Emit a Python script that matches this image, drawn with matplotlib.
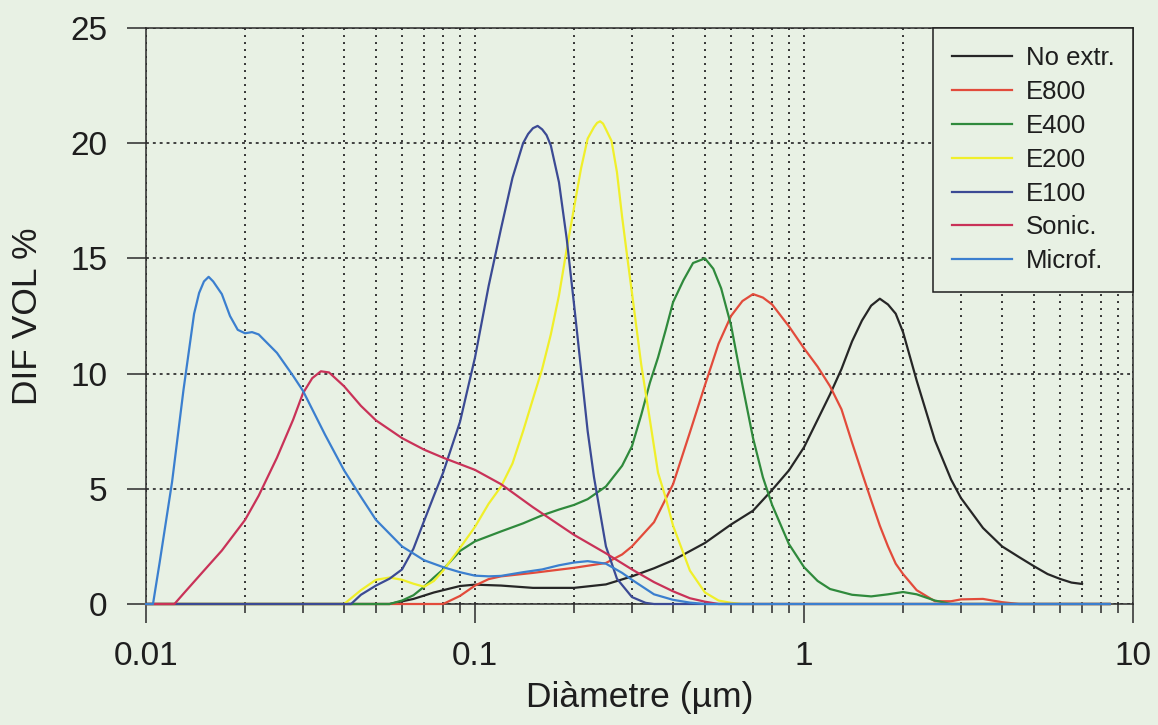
import matplotlib
matplotlib.use("Agg")
import matplotlib.pyplot as plt
from matplotlib.ticker import FixedLocator, FixedFormatter, LogLocator, NullFormatter

plt.rcParams['font.family'] = ['Liberation Sans', 'DejaVu Sans']

# Particle size distributions: diameter (um) vs differential volume (%)
no_extr_d = [0.01, 0.055, 0.065, 0.075, 0.09, 0.10, 0.12, 0.15, 0.20, 0.25, 0.30, 0.35,
             0.40, 0.50, 0.60, 0.70, 0.80, 0.90, 1.0, 1.1, 1.2, 1.3, 1.4, 1.5, 1.6, 1.7,
             1.8, 1.9, 2.0, 2.2, 2.5, 2.8, 3.0, 3.5, 4.0, 4.5, 5.0, 5.5, 6.0, 6.5, 7.0]
no_extr_v = [0, 0, 0.22, 0.5, 0.78, 0.84, 0.8, 0.7, 0.7, 0.85, 1.2, 1.55,
             1.9, 2.65, 3.45, 4.05, 4.95, 5.8, 6.8, 8.0, 9.1, 10.2, 11.4, 12.3, 12.95, 13.25,
             13.0, 12.6, 11.8, 9.7, 7.1, 5.4, 4.6, 3.3, 2.5, 2.04, 1.64, 1.3, 1.09, 0.93, 0.87]

e800_d = [0.01, 0.08, 0.09, 0.10, 0.11, 0.12, 0.15, 0.20, 0.25, 0.28, 0.30, 0.35, 0.40,
          0.45, 0.50, 0.55, 0.60, 0.65, 0.70, 0.75, 0.80, 0.90, 1.0, 1.1, 1.2, 1.3, 1.4,
          1.5, 1.6, 1.7, 1.8, 1.9, 2.0, 2.2, 2.5, 2.8, 3.0, 3.5, 4.0, 4.5, 8.5]
e800_v = [0, 0, 0.35, 0.8, 1.08, 1.2, 1.35, 1.57, 1.78, 2.15, 2.5, 3.55, 5.2,
          7.45, 9.5, 11.3, 12.5, 13.15, 13.45, 13.3, 13.0, 12.05, 11.1, 10.3, 9.45, 8.45, 7.0,
          5.7, 4.5, 3.4, 2.5, 1.75, 1.3, 0.6, 0.12, 0.12, 0.2, 0.22, 0.08, 0, 0]

e400_d = [0.01, 0.055, 0.06, 0.065, 0.07, 0.075, 0.08, 0.09, 0.10, 0.12, 0.14, 0.16,
          0.18, 0.20, 0.22, 0.25, 0.28, 0.30, 0.32, 0.34, 0.36, 0.38, 0.40, 0.43, 0.46,
          0.50, 0.53, 0.56, 0.60, 0.65, 0.70, 0.75, 0.80, 0.90, 1.0, 1.1, 1.2, 1.4, 1.6,
          1.8, 2.0, 2.2, 2.5, 2.8, 8.5]
e400_v = [0, 0, 0.15, 0.38, 0.75, 1.15, 1.5, 2.3, 2.72, 3.15, 3.5, 3.85,
          4.1, 4.3, 4.55, 5.1, 6.0, 6.85, 8.2, 9.6, 10.7, 11.9, 13.1, 14.05, 14.8,
          15.0, 14.55, 13.7, 12.1, 9.5, 7.2, 5.5, 4.3, 2.6, 1.6, 1.0, 0.65, 0.4, 0.33,
          0.42, 0.52, 0.42, 0.15, 0, 0]

e200_d = [0.01, 0.04, 0.045, 0.05, 0.055, 0.06, 0.065, 0.07, 0.075, 0.08, 0.09, 0.10,
          0.11, 0.12, 0.13, 0.14, 0.15, 0.16, 0.17, 0.18, 0.19, 0.20, 0.21, 0.22, 0.23,
          0.235, 0.24, 0.245, 0.25, 0.26, 0.27, 0.28, 0.29, 0.30, 0.32, 0.34, 0.36, 0.38,
          0.40, 0.45, 0.50, 0.55, 0.60, 0.65, 8.5]
e200_v = [0, 0, 0.6, 1.05, 1.15, 1.05, 0.88, 0.75, 1.0, 1.45, 2.43, 3.35,
          4.35, 5.1, 6.1, 7.5, 8.9, 10.2, 11.7, 13.4, 15.4, 17.2, 18.9, 20.2, 20.7,
          20.88, 20.95, 20.85, 20.6, 20.1, 18.75, 16.8, 15.1, 13.5, 10.4, 8.0, 5.7, 4.6,
          3.4, 1.45, 0.5, 0.15, 0.05, 0, 0]

e100_d = [0.01, 0.042, 0.045, 0.05, 0.055, 0.06, 0.065, 0.07, 0.075, 0.08, 0.09, 0.10,
          0.11, 0.12, 0.13, 0.14, 0.145, 0.15, 0.155, 0.16, 0.165, 0.17, 0.18, 0.19, 0.20,
          0.21, 0.22, 0.23, 0.25, 0.27, 0.30, 0.33, 0.35, 8.5]
e100_v = [0, 0, 0.4, 0.8, 1.1, 1.5, 2.4, 3.6, 4.7, 5.7, 7.9, 10.7,
          13.8, 16.3, 18.5, 20.0, 20.4, 20.65, 20.75, 20.6, 20.35, 19.9, 18.3, 15.85, 13.0,
          10.2, 7.5, 5.5, 2.5, 1.1, 0.3, 0.05, 0, 0]

sonic_d = [0.01, 0.0122, 0.013, 0.015, 0.017, 0.020, 0.022, 0.025, 0.028, 0.030, 0.032,
           0.034, 0.036, 0.040, 0.045, 0.050, 0.060, 0.070, 0.080, 0.10, 0.12, 0.15, 0.20,
           0.25, 0.30, 0.35, 0.40, 0.45, 0.50, 0.55, 8.5]
sonic_v = [0, 0, 0.45, 1.45, 2.32, 3.65, 4.7, 6.35, 8.0, 9.15, 9.8,
           10.1, 10.05, 9.45, 8.6, 7.97, 7.2, 6.7, 6.35, 5.82, 5.2, 4.2, 3.0,
           2.2, 1.5, 0.95, 0.55, 0.25, 0.1, 0, 0]

microf_d = [0.01, 0.0105, 0.011, 0.012, 0.013, 0.014, 0.0145, 0.015, 0.0155, 0.016, 0.017,
            0.018, 0.019, 0.020, 0.021, 0.022, 0.025, 0.028, 0.030, 0.035, 0.040, 0.045,
            0.050, 0.060, 0.070, 0.080, 0.090, 0.10, 0.11, 0.12, 0.14, 0.16, 0.18, 0.20,
            0.22, 0.25, 0.28, 0.30, 0.35, 0.40, 0.45, 0.50, 8.5]
microf_v = [0, 0, 1.8, 5.3, 9.3, 12.6, 13.5, 14.0, 14.2, 14.0, 13.45,
            12.5, 11.9, 11.75, 11.8, 11.7, 10.9, 9.9, 9.25, 7.35, 5.8, 4.65,
            3.65, 2.5, 1.9, 1.6, 1.38, 1.23, 1.2, 1.22, 1.38, 1.5, 1.68, 1.8,
            1.86, 1.75, 1.35, 1.05, 0.42, 0.18, 0.06, 0, 0]

series_labels = ["No extr.", "E800", "E400", "E200", "E100", "Sonic.", "Microf."]
series_colors = ["#262626", "#e24b3b", "#2f8a3c", "#f0ef2a", "#3b4a94", "#c93258", "#3b7fcf"]

x_ticks = [0.01, 0.1, 1, 10]
x_tick_labels = ["0.01", "0.1", "1", "10"]
y_ticks = [0, 5, 10, 15, 20, 25]

bg = "#e8f1e4"
ink = "#1e1e1e"

fig = plt.figure(figsize=(11.58, 7.25), dpi=100)
fig.patch.set_facecolor(bg)
ax = fig.add_axes([0.1261, 0.1669, 0.8523, 0.7945])
ax.set_facecolor(bg)

data = [(no_extr_d, no_extr_v), (e800_d, e800_v), (e400_d, e400_v), (e200_d, e200_v),
        (e100_d, e100_v), (sonic_d, sonic_v), (microf_d, microf_v)]
for (d, v), lab, col in zip(data, series_labels, series_colors):
    ax.plot(d, v, color=col, lw=1.6, label=lab, zorder=3, clip_on=False,
            solid_joinstyle='round')

ax.set_xscale('log')
ax.set_xlim(0.01, 10)
ax.set_ylim(0, 25)

ax.xaxis.set_major_locator(FixedLocator(x_ticks))
ax.xaxis.set_major_formatter(FixedFormatter(x_tick_labels))
ax.xaxis.set_minor_locator(LogLocator(base=10, subs=[2, 3, 4, 5, 6, 7, 8, 9]))
ax.xaxis.set_minor_formatter(NullFormatter())
ax.set_yticks(y_ticks)

ax.set_axisbelow(True)
ax.grid(axis='x', which='both', linestyle=(0, (1, 2.6)), linewidth=1.4, color='#333333')
ax.grid(axis='y', which='major', linestyle=(0, (1.6, 2.2)), linewidth=1.3, color='#333333')

for s in ax.spines.values():
    s.set_linewidth(1.1)
    s.set_color('#2a2a2a')

ax.tick_params(axis='both', which='major', direction='out', length=13.7, width=1.1,
               color='#2a2a2a', labelsize=24, labelcolor=ink)
ax.tick_params(axis='x', which='major', pad=13)
ax.tick_params(axis='y', which='major', pad=14)
ax.tick_params(axis='x', which='minor', direction='out', length=6.5, width=1.1,
               color='#2a2a2a')
ax.tick_params(axis='y', which='minor', left=False)

ax.set_xlabel("Diàmetre (µm)", fontsize=25.5, color=ink)
ax.set_ylabel("DIF VOL %", fontsize=25.5, color=ink)
ax.xaxis.set_label_coords(0.5, -0.134)
ax.yaxis.set_label_coords(-0.103, 0.5)

leg = ax.legend(loc='upper right', bbox_to_anchor=(1.0, 1.0), borderaxespad=0,
                fontsize=18.5, frameon=True, fancybox=False, framealpha=1,
                facecolor=bg, edgecolor='#1e1e1e', labelspacing=0.38,
                handlelength=2.33, handletextpad=0.55, borderpad=0.72)
leg.get_frame().set_linewidth(1.1)
for line in leg.get_lines():
    line.set_linewidth(1.6)
for t in leg.get_texts():
    t.set_color(ink)
leg.set_zorder(5)

fig.savefig("out.png", dpi=100, facecolor=bg)
